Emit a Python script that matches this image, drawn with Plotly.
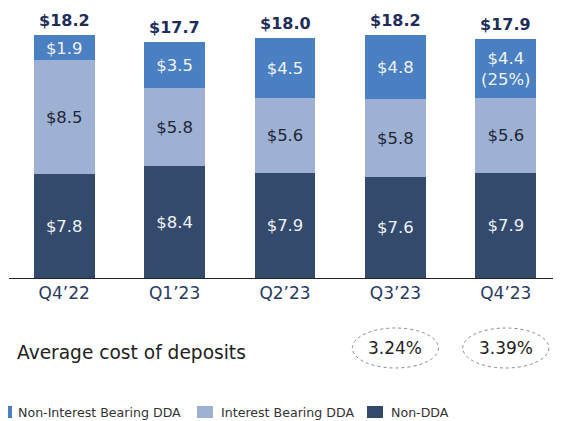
import plotly.graph_objects as go

categories = ["Q4’22", "Q1’23", "Q2’23", "Q3’23", "Q4’23"]
non_dda = [7.8, 8.4, 7.9, 7.6, 7.9]
interest_dda = [8.5, 5.8, 5.6, 5.8, 5.6]
non_interest_dda = [1.9, 3.5, 4.5, 4.8, 4.4]
totals = [18.2, 17.7, 18.0, 18.2, 17.9]
top_labels = ["$1.9", "$3.5", "$4.5", "$4.8", "$4.4<br>(25%)"]
cost_categories = ["Q3’23", "Q4’23"]
cost_values = ["3.24%", "3.39%"]
legend_names = ["Non-Interest Bearing DDA", "Interest Bearing DDA", "Non-DDA"]

FONT = "DejaVu Sans, sans-serif"
C_DARK = "#344a6d"
C_LIGHT = "#9fb1d2"
C_BLUE = "#4a80c2"
legend_colors = [C_BLUE, C_LIGHT, C_DARK]

# The page places the figure 8px from the window's top-left corner.
OFF = 8
W, H = 561 - OFF, 421 - OFF
# plot area in window pixels: x 9..561, y 11..278
L, R, T, B = 9 - OFF, 0, 11 - OFF, 421 - 278
PW, PH = W - L - R, H - T - B
def px(x):  # window pixel x -> paper x
    return (x - OFF - L) / PW
def py(y):  # window pixel y -> paper y
    return (H - B - (y - OFF)) / PH

fig = go.Figure()
fig.add_bar(x=categories, y=non_dda, name="Non-DDA", marker_color=C_DARK,
            text=[f"${v:.1f}" for v in non_dda], textposition="inside",
            insidetextanchor="middle", textfont=dict(color="#eef2f8", size=17, family=FONT),
            showlegend=False)
fig.add_bar(x=categories, y=interest_dda, name="Interest Bearing DDA", marker_color=C_LIGHT,
            text=[f"${v:.1f}" for v in interest_dda], textposition="inside",
            insidetextanchor="middle", textfont=dict(color="#1e2638", size=17, family=FONT),
            showlegend=False)
fig.add_bar(x=categories, y=non_interest_dda, name="Non-Interest Bearing DDA", marker_color=C_BLUE,
            text=top_labels, textposition="inside",
            insidetextanchor="middle", textfont=dict(color="#eef2f8", size=17, family=FONT),
            showlegend=False)

for c, t in zip(categories, totals):
    fig.add_annotation(x=c, y=t, text=f"<b>${t:.1f}</b>", showarrow=False,
                       yanchor="bottom", yshift=3,
                       font=dict(size=16, color="#1f2d5a", family=FONT))

fig.add_annotation(xref="paper", yref="paper", x=px(15), y=py(352), xanchor="left",
                   yanchor="middle", text="Average cost of deposits", showarrow=False,
                   font=dict(size=18.6, color="#222222", family=FONT))

for c, v in zip(cost_categories, cost_values):
    i = categories.index(c)
    fig.add_shape(type="circle", xref="x", yref="paper",
                  x0=i - 0.39, x1=i + 0.39, y0=py(368), y1=py(328),
                  line=dict(color="#8a8a8a", width=1, dash="dot"))
    fig.add_annotation(x=c, xref="x", yref="paper", y=py(348), yanchor="middle",
                       text=v, showarrow=False,
                       font=dict(size=17, color="#222222", family=FONT))

# legend drawn as squares + labels (window pixel positions)
sq_x0 = [-4, 197, 367]
sq_x1 = [12, 213, 383]
tx_x = [16, 219, 389]
for name, col, s0, s1, tx in zip(legend_names, legend_colors, sq_x0, sq_x1, tx_x):
    fig.add_shape(type="rect", xref="paper", yref="paper",
                  x0=px(s0), x1=px(s1), y0=py(418), y1=py(406),
                  fillcolor=col, line=dict(width=0))
    fig.add_annotation(xref="paper", yref="paper", x=px(tx), y=py(412),
                       xanchor="left", yanchor="middle", text=name, showarrow=False,
                       font=dict(size=12.6, color="#333333", family=FONT))

fig.update_layout(
    barmode="stack",
    bargap=0.45,
    width=W, height=H,
    margin=dict(l=L, r=R, t=T, b=B),
    plot_bgcolor="white", paper_bgcolor="white",
    font=dict(family=FONT),
    showlegend=False,
    uniformtext=dict(minsize=10, mode="show"),
)
fig.update_traces(marker_line_width=0)
fig.update_xaxes(showline=True, linecolor="#222222", linewidth=1, ticks="",
                 range=[-0.5, 4.5], automargin=False,
                 tickfont=dict(size=17, color="#2b3a63", family=FONT))
fig.update_yaxes(range=[0, 20], visible=False, showgrid=False, automargin=False)

fig.write_html("out.html")
